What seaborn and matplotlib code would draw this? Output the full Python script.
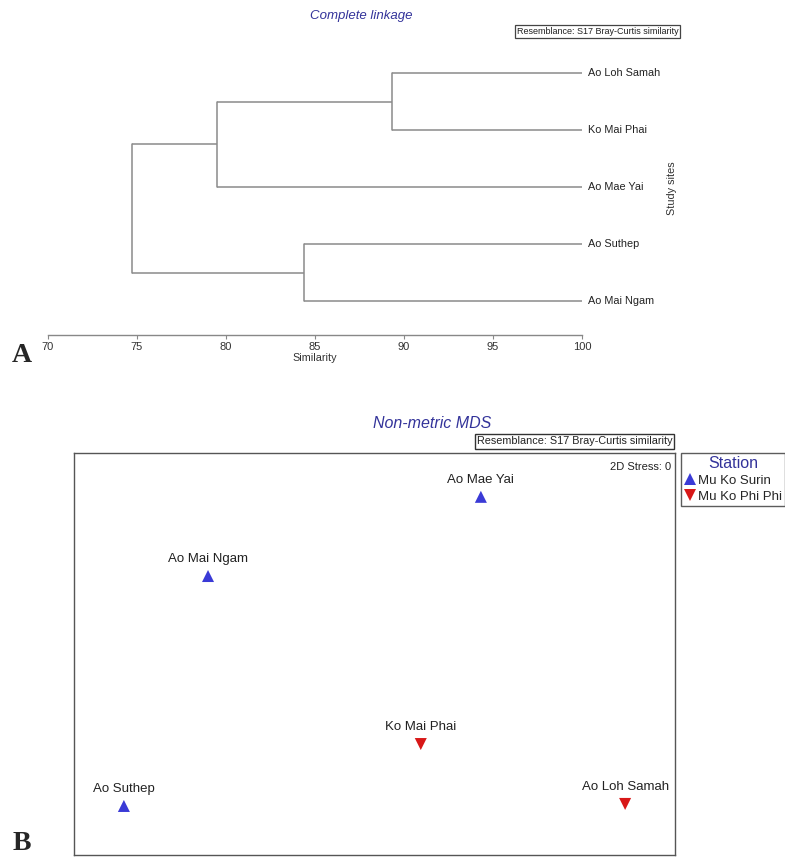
import matplotlib
matplotlib.use("Agg")
import matplotlib.pyplot as plt
import seaborn as sns
import pandas as pd
import numpy as np

# ---------------- data ----------------
# Dendrogram (complete linkage, Bray-Curtis similarity)
leaf_names = ["Ao Loh Samah", "Ko Mai Phai", "Ao Mae Yai", "Ao Suthep", "Ao Mai Ngam"]
leaf_pos = [5, 4, 3, 2, 1]
# merges: (child_a, child_b, similarity); children indices: leaves 0..4, clusters 5..
merge_a = [0, 5, 3, 6]
merge_b = [1, 2, 4, 7]
merge_sim = [89.3, 79.5, 84.4, 74.7]
sim_ticks = [70, 75, 80, 85, 90, 95, 100]

# nMDS
mds_sites = ["Ao Mae Yai", "Ao Mai Ngam", "Ko Mai Phai", "Ao Suthep", "Ao Loh Samah"]
mds_x = [67.7, 22.3, 57.7, 8.3, 91.7]
mds_y = [89.1, 69.4, 27.6, 12.2, 12.7]
mds_station = ["Mu Ko Surin", "Mu Ko Surin", "Mu Ko Phi Phi", "Mu Ko Surin", "Mu Ko Phi Phi"]

sns.set_theme(style="white")
plt.rcParams["font.family"] = ["Liberation Sans", "DejaVu Sans"]

W, H = 785, 857
fig = plt.figure(figsize=(W / 100, H / 100), dpi=100)

def fx(px):
    return px / W

def fy(py):
    return 1 - py / H

title_col = "#33339a"

# ---------------- Panel A: dendrogram ----------------
axA = fig.add_axes([fx(48), fy(335), fx(582) - fx(48), fy(40) - fy(335)])
axA.patch.set_alpha(0)
node_y = {i: leaf_pos[i] for i in range(len(leaf_names))}
node_x = {i: 100.0 for i in range(len(leaf_names))}
line_col = "#8a8a8a"
for k, (a, b, s) in enumerate(zip(merge_a, merge_b, merge_sim)):
    nid = len(leaf_names) + k
    for c in (a, b):
        axA.plot([node_x[c], s], [node_y[c], node_y[c]], color=line_col, lw=1.1,
                 solid_capstyle="butt")
    axA.plot([s, s], [node_y[a], node_y[b]], color=line_col, lw=1.1)
    node_x[nid] = s
    node_y[nid] = (node_y[a] + node_y[b]) / 2

axA.set_xlim(70, 100)
axA.set_ylim(0.404, 5.579)
for sp in ["top", "right", "left"]:
    axA.spines[sp].set_visible(False)
axA.spines["bottom"].set_color("#888888")
axA.spines["bottom"].set_linewidth(1.0)
axA.set_xticks(sim_ticks)
axA.set_xticklabels([str(t) for t in sim_ticks], fontsize=8, color="#333333")
axA.tick_params(axis="x", direction="out", length=3, width=0.8, color="#888888", pad=2,
                bottom=True)
axA.set_yticks([])
axA.set_xlabel("Similarity", fontsize=7.8, color="#333333", labelpad=1)
for name, y in zip(leaf_names, leaf_pos):
    axA.text(100.35, y, name, fontsize=7.8, va="center", ha="left", color="#222222",
             clip_on=False)

fig.text(fx(361), fy(16), "Complete linkage", fontsize=9.5, style="italic",
         color=title_col, ha="center", va="center")
fig.text(fx(597.5), fy(31.5), "Resemblance: S17 Bray-Curtis similarity", fontsize=6.5,
         ha="center", va="center", color="#222222",
         bbox=dict(boxstyle="square,pad=0.2", fc="white", ec="#444444", lw=0.9))
fig.text(fx(672), fy(188), "Study sites", fontsize=7.8, rotation=90, ha="center",
         va="center", color="#333333")
fig.text(fx(22), fy(356), "A", fontsize=20, fontweight="bold",
         family=["Liberation Serif", "DejaVu Serif"], ha="center", va="center")

# ---------------- Panel B: nMDS ----------------
axB = fig.add_axes([fx(74), fy(855), fx(675) - fx(74), fy(453) - fy(855)])
df = pd.DataFrame({"x": mds_x, "y": mds_y, "Site": mds_sites, "Station": mds_station})
palette = {"Mu Ko Surin": "#3a3ad6", "Mu Ko Phi Phi": "#d81818"}
markers = {"Mu Ko Surin": "^", "Mu Ko Phi Phi": "v"}
sns.scatterplot(data=df, x="x", y="y", hue="Station", style="Station",
                palette=palette, markers=markers, s=75, linewidth=0, ax=axB)
axB.set_xlim(0, 100)
axB.set_ylim(0, 100)
axB.set_xticks([])
axB.set_yticks([])
axB.set_xlabel("")
axB.set_ylabel("")
for sp in axB.spines.values():
    sp.set_color("#555555")
    sp.set_linewidth(1.0)
    sp.set_visible(True)
for xx, yy, nm in zip(mds_x, mds_y, mds_sites):
    axB.annotate(nm, (xx, yy), xytext=(0, 8), textcoords="offset points",
                 ha="center", va="bottom", fontsize=9.5, color="#222222")
axB.text(0.993, 0.978, "2D Stress: 0", transform=axB.transAxes, ha="right", va="top",
         fontsize=8, color="#222222")

sns.move_legend(axB, loc="upper left", bbox_to_anchor=(1.01, 1.0), frameon=True,
                fancybox=False, title="Station", fontsize=9.5, title_fontsize=11.5,
                handletextpad=0.2, borderpad=0.2, labelspacing=0.3,
                handlelength=0.9, borderaxespad=0, markerscale=1.0)
leg = axB.get_legend()
leg.get_frame().set_edgecolor("#333333")
leg.get_frame().set_linewidth(1.0)
leg.get_title().set_color(title_col)

fig.text(fx(432), fy(423), "Non-metric MDS", fontsize=11.5, style="italic",
         color=title_col, ha="center", va="center")
fig.text(fx(574.5), fy(441.5), "Resemblance: S17 Bray-Curtis similarity", fontsize=7.8,
         ha="center", va="center", color="#222222",
         bbox=dict(boxstyle="square,pad=0.2", fc="white", ec="#333333", lw=1.0))
fig.text(fx(22), fy(843), "B", fontsize=20, fontweight="bold",
         family=["Liberation Serif", "DejaVu Serif"], ha="center", va="center")

fig.savefig("out.png", dpi=100)
